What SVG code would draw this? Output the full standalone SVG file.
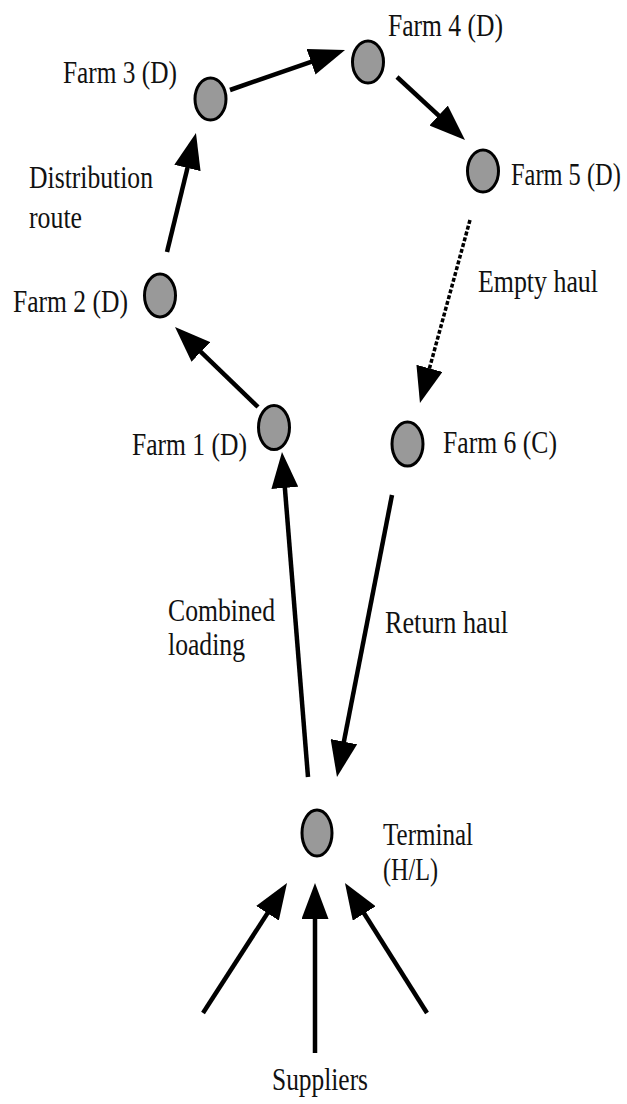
<svg xmlns="http://www.w3.org/2000/svg" width="627" height="1104" viewBox="0 0 627 1104">
<style>
.node{fill:#999999;stroke:#000;stroke-width:3}
.lbl{font-family:"Liberation Serif","Times New Roman",serif;font-size:31px;fill:#111}
.edge{stroke:#000;stroke-width:4.5;fill:none;marker-end:url(#ah)}
.dash{stroke:#000;stroke-width:3.5;fill:none;stroke-dasharray:4 2;marker-end:url(#ah)}
</style>
<defs>
<marker id="ah" markerUnits="userSpaceOnUse" markerWidth="36" markerHeight="27" refX="26" refY="13.5" orient="auto" viewBox="0 0 36 27">
<path d="M0,0 L36,13.5 L0,27 z" fill="#000"/>
</marker>
</defs>
<rect width="627" height="1104" fill="#fff"/>
<g id="connectors">
<line class="edge" x1="230" y1="90" x2="335.6" y2="53.3"/>
<line class="edge" x1="397" y1="77" x2="457.7" y2="133.2"/>
<line class="dash" x1="470" y1="220" x2="422.6" y2="393.4"/>
<line class="edge" x1="258" y1="407" x2="182.2" y2="333.9"/>
<line class="edge" x1="167" y1="252" x2="193.6" y2="142.7"/>
<line class="edge" x1="308" y1="777" x2="282.8" y2="462"/>
<line class="edge" x1="392" y1="495" x2="338.9" y2="767.2"/>
<line class="edge" x1="203" y1="1013" x2="281.6" y2="891.4"/>
<line class="edge" x1="315" y1="1053" x2="315" y2="893"/>
<line class="edge" x1="427" y1="1013" x2="350.3" y2="891.5"/>
</g>
<g id="farm3"><ellipse class="node" cx="210.5" cy="99" rx="15.5" ry="21"/><text class="lbl" x="63" y="83" textLength="114" lengthAdjust="spacingAndGlyphs">Farm 3 (D)</text></g>
<g id="farm4"><ellipse class="node" cx="368" cy="62" rx="15.5" ry="21"/><text class="lbl" x="388" y="36" textLength="115" lengthAdjust="spacingAndGlyphs">Farm 4 (D)</text></g>
<g id="farm5"><ellipse class="node" cx="483" cy="171" rx="15.5" ry="21"/><text class="lbl" transform="translate(511,185) scale(0.79,1)" x="0" y="0" textLength="139" lengthAdjust="spacingAndGlyphs">Farm 5 (D)</text></g>
<g id="farm2"><ellipse class="node" cx="160" cy="295.5" rx="15.5" ry="21.5"/><text class="lbl" x="13" y="312" textLength="115" lengthAdjust="spacingAndGlyphs">Farm 2 (D)</text></g>
<g id="farm1"><ellipse class="node" cx="274" cy="427.5" rx="15.5" ry="22"/><text class="lbl" x="132" y="455" textLength="115" lengthAdjust="spacingAndGlyphs">Farm 1 (D)</text></g>
<g id="farm6"><ellipse class="node" cx="407.5" cy="444" rx="15.5" ry="22"/><text class="lbl" x="443" y="453" textLength="114" lengthAdjust="spacingAndGlyphs">Farm 6 (C)</text></g>
<g id="terminal"><ellipse class="node" cx="317" cy="833" rx="15" ry="23"/><text class="lbl" x="383" y="845" textLength="90" lengthAdjust="spacingAndGlyphs">Terminal</text><text class="lbl" x="383" y="880" textLength="55" lengthAdjust="spacingAndGlyphs">(H/L)</text></g>
<g id="labels">
<text class="lbl" x="29" y="188" textLength="124" lengthAdjust="spacingAndGlyphs">Distribution</text>
<text class="lbl" x="29" y="228" textLength="53" lengthAdjust="spacingAndGlyphs">route</text>
<text class="lbl" x="478" y="292" textLength="120" lengthAdjust="spacingAndGlyphs">Empty haul</text>
<text class="lbl" x="168" y="621" textLength="107" lengthAdjust="spacingAndGlyphs">Combined</text>
<text class="lbl" x="168" y="655" textLength="77" lengthAdjust="spacingAndGlyphs">loading</text>
<text class="lbl" x="385" y="633" textLength="123" lengthAdjust="spacingAndGlyphs">Return haul</text>
<text class="lbl" x="272" y="1090" textLength="96" lengthAdjust="spacingAndGlyphs">Suppliers</text>
</g>
</svg>
